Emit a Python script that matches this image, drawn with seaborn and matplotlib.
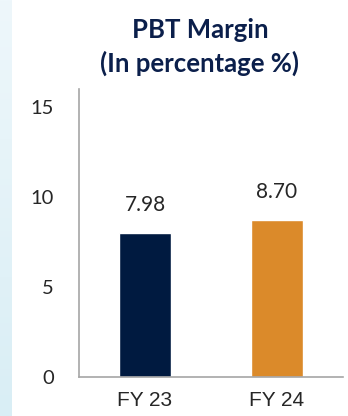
import numpy as np
import pandas as pd
import matplotlib
matplotlib.use("Agg")
import matplotlib.pyplot as plt
import seaborn as sns
from matplotlib.colors import LinearSegmentedColormap

categories = ["FY 23", "FY 24"]
values = [7.98, 8.70]
value_labels = ["7.98", "8.70"]
yticks = [0, 5, 10, 15]
title = "PBT Margin\n(In percentage %)"

bar_colors = ["#001A40", "#DB8A2A"]
spine_color = "#A6A6A6"
text_color = "#262626"
title_color = "#0B1F4B"

sns.set_theme(style="white")
plt.rcParams["font.family"] = ["Lato", "DejaVu Sans"]

df = pd.DataFrame({"cat": categories, "val": values})

fig = plt.figure(figsize=(3.48, 4.16), dpi=100)
fig.patch.set_facecolor("white")

# left light-blue strip
bg = fig.add_axes([0, 0, 12 / 348, 1])
grad = np.linspace(0, 1, 256).reshape(-1, 1)
cmap = LinearSegmentedColormap.from_list("bg", ["#EEF7FB", "#D9EEF5"])
bg.imshow(grad, aspect="auto", cmap=cmap, extent=[0, 1, 0, 1])
bg.set_axis_off()

ax = fig.add_axes([79 / 348, 1 - 377 / 416, (343 - 79) / 348, (377 - 89) / 416])
sns.barplot(data=df, x="cat", y="val", hue="cat", palette=bar_colors,
            width=0.4, legend=False, ax=ax, saturation=1)

ax.set_xlim(-0.5, 1.5)
ax.set_ylim(0, 16)
ax.set_yticks(yticks)
ax.set_xlabel("")
ax.set_ylabel("")
for s in ["top", "right"]:
    ax.spines[s].set_visible(False)
for s in ["left", "bottom"]:
    ax.spines[s].set_color(spine_color)
    ax.spines[s].set_linewidth(1.2)

ax.tick_params(axis="y", which="major", length=7, width=1.2, color=spine_color,
               direction="out", labelsize=14.5, labelcolor=text_color, pad=11)
ax.tick_params(axis="x", which="major", length=0, labelsize=15,
               labelcolor=text_color, pad=10)
ax.set_xticks([-0.5, 0.5, 1.5], minor=True)
ax.tick_params(axis="x", which="minor", length=5, width=1.2, color=spine_color,
               direction="out")
for lab in ax.get_xticklabels():
    lab.set_family(["Liberation Sans", "DejaVu Sans"])

for i, (v, t) in enumerate(zip(values, value_labels)):
    ax.annotate(t, (i, v), xytext=(0, 18), textcoords="offset pixels",
                ha="center", va="bottom", fontsize=15, color=text_color)

fig.text(200 / 348, 1 - 47 / 416, title, ha="center", va="center",
         fontsize=18.5, fontweight="bold", color=title_color, linespacing=1.45)

fig.savefig("out.png", dpi=100)
